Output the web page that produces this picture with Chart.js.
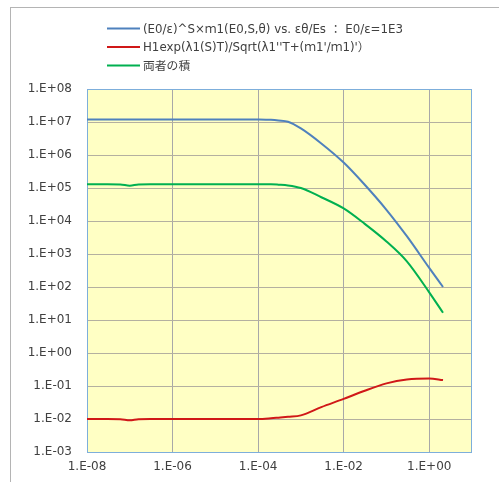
<!DOCTYPE html>
<html>
<head>
<meta charset="utf-8">
<script src="https://cdn.jsdelivr.net/npm/chart.js@4"></script>
<style>
  html, body { margin: 0; padding: 0; background: #ffffff; }
  #wrap { position: relative; width: 499px; height: 482px; }
  #frame { position: absolute; left: 10px; top: 7px; right: 0; bottom: 0;
           border-top: 1px solid #b4b4b4; border-left: 1px solid #b4b4b4; pointer-events: none; }
  canvas { position: absolute; left: 0; top: 0; }
</style>
</head>
<body>
<div id="wrap">
  <canvas id="c" width="499" height="482"></canvas>
  <div id="frame"></div>
</div>
<script>
// εθ/Es (horizontal axis)
const strainRatio = [1e-8, 3e-8, 6e-8, 1e-7, 1.6e-7, 3e-7, 1e-6, 1e-5, 3e-5, 1e-4, 2e-4, 3e-4, 5e-4,
                     1e-3, 3e-3, 1e-2, 3e-2, 0.1, 0.3, 1, 2.1];

// (E0/ε)^S × m1(E0,S,θ), E0/ε = 1E3
const termA = [1.2e7, 1.2e7, 1.2e7, 1.2e7, 1.2e7, 1.2e7, 1.2e7, 1.2e7, 1.2e7, 1.19e7, 1.16e7, 1.11e7, 1.02e7,
               6.4e6, 2.24e6, 5.9e5, 1.32e5, 2.19e4, 3.47e3, 380, 100];

// H1 exp(λ1(S)T) / Sqrt(λ1''T + (m1'/m1)')
const termB = [0.01, 0.01, 0.0099, 0.0091, 0.0099, 0.01, 0.01, 0.01, 0.01, 0.01, 0.0105, 0.011, 0.0117,
               0.0129, 0.0229, 0.0407, 0.0708, 0.120, 0.158, 0.170, 0.151];

// product of the two terms
const product = [1.29e5, 1.29e5, 1.28e5, 1.18e5, 1.28e5, 1.29e5, 1.29e5, 1.29e5, 1.29e5, 1.29e5, 1.29e5, 1.26e5, 1.2e5,
                 1.0e5, 5.25e4, 2.4e4, 8.5e3, 2.4e3, 600, 69, 16.6];

const seriesLabels = [
  "(E0/ε)^S×ｍ1(E0,S,θ) vs. εθ/Es ： E0/ε=1E3",
  "H1exp(λ1(S)T)/Sqrt(λ1''T+(ｍ1'/ｍ1)'）",
  "両者の積"
];

const xTickValues = [1e-8, 1e-6, 1e-4, 1e-2, 1];
const xTickLabels = ["1.E-08", "1.E-06", "1.E-04", "1.E-02", "1.E+00"];
const yTickValues = [1e-3, 1e-2, 1e-1, 1, 10, 100, 1e3, 1e4, 1e5, 1e6, 1e7, 1e8];
const yTickLabels = ["1.E-03", "1.E-02", "1.E-01", "1.E+00", "1.E+01", "1.E+02",
                     "1.E+03", "1.E+04", "1.E+05", "1.E+06", "1.E+07", "1.E+08"];

const toPoints = vals => strainRatio.map((x, i) => ({ x: x, y: vals[i] }));
const labelFor = (values, labels) => v => {
  const i = values.findIndex(t => Math.abs(Math.log10(t) - Math.log10(v)) < 1e-6);
  return i >= 0 ? labels[i] : "";
};

const FONT = "'DejaVu Sans', 'Noto Sans CJK JP', sans-serif";

// plot-area fill and frame
const plotArea = {
  id: "plotArea",
  beforeDraw(chart) {
    const a = chart.chartArea, ctx = chart.ctx;
    ctx.save();
    ctx.fillStyle = "#FFFFC4";
    ctx.fillRect(a.left, a.top, a.right - a.left, a.bottom - a.top);
    ctx.restore();
  },
  beforeDatasetsDraw(chart) {
    const a = chart.chartArea, ctx = chart.ctx;
    ctx.save();
    ctx.strokeStyle = "#7DAEDB";
    ctx.lineWidth = 1;
    ctx.strokeRect(a.left + 0.5, a.top + 0.5, a.right - a.left - 1, a.bottom - a.top);
    ctx.restore();
  }
};

// stacked legend above the plot
const stackedLegend = {
  id: "stackedLegend",
  afterDraw(chart) {
    const ctx = chart.ctx;
    const rows = [28.5, 47, 65.5];
    ctx.save();
    ctx.font = "11.8px " + FONT;
    ctx.textBaseline = "middle";
    ctx.textAlign = "left";
    chart.data.datasets.forEach((ds, i) => {
      const y = rows[i];
      ctx.strokeStyle = ds.borderColor;
      ctx.lineWidth = 2;
      ctx.beginPath();
      ctx.moveTo(107, y);
      ctx.lineTo(140, y);
      ctx.stroke();
      ctx.fillStyle = "#404040";
      ctx.fillText(ds.label, 143, y + 1);
    });
    ctx.restore();
  }
};

new Chart(document.getElementById("c"), {
  type: "line",
  data: {
    datasets: [
      { label: seriesLabels[0], data: toPoints(termA), borderColor: "#4F81BD" },
      { label: seriesLabels[1], data: toPoints(termB), borderColor: "#D01818" },
      { label: seriesLabels[2], data: toPoints(product), borderColor: "#00B050" }
    ]
  },
  options: {
    responsive: false,
    animation: false,
    devicePixelRatio: 1,
    layout: { padding: { left: 0, top: 89, right: 27, bottom: 0 } },
    elements: {
      point: { radius: 0 },
      line: { borderWidth: 2, tension: 0.4, cubicInterpolationMode: "monotone", fill: false }
    },
    plugins: { legend: { display: false }, tooltip: { enabled: false } },
    scales: {
      x: {
        type: "logarithmic",
        min: 1e-8,
        max: 10,
        afterBuildTicks(scale) { scale.ticks = xTickValues.map(v => ({ value: v })); },
        afterFit(scale) { scale.height = 30; },
        ticks: {
          callback: labelFor(xTickValues, xTickLabels),
          autoSkip: false, maxRotation: 0, padding: 8,
          color: "#404040", font: { family: FONT, size: 12 }
        },
        grid: { color: "#A8A8A8", lineWidth: 1, drawTicks: false },
        border: { display: false }
      },
      y: {
        type: "logarithmic",
        min: 1e-3,
        max: 1e8,
        afterBuildTicks(scale) { scale.ticks = yTickValues.map(v => ({ value: v })); },
        afterFit(scale) { scale.width = 87; },
        ticks: {
          callback: labelFor(yTickValues, yTickLabels),
          autoSkip: false, padding: 15,
          color: "#404040", font: { family: FONT, size: 12 }
        },
        grid: { color: "#B4B0A0", lineWidth: 1, drawTicks: false },
        border: { display: false }
      }
    }
  },
  plugins: [plotArea, stackedLegend]
});
</script>
</body>
</html>
